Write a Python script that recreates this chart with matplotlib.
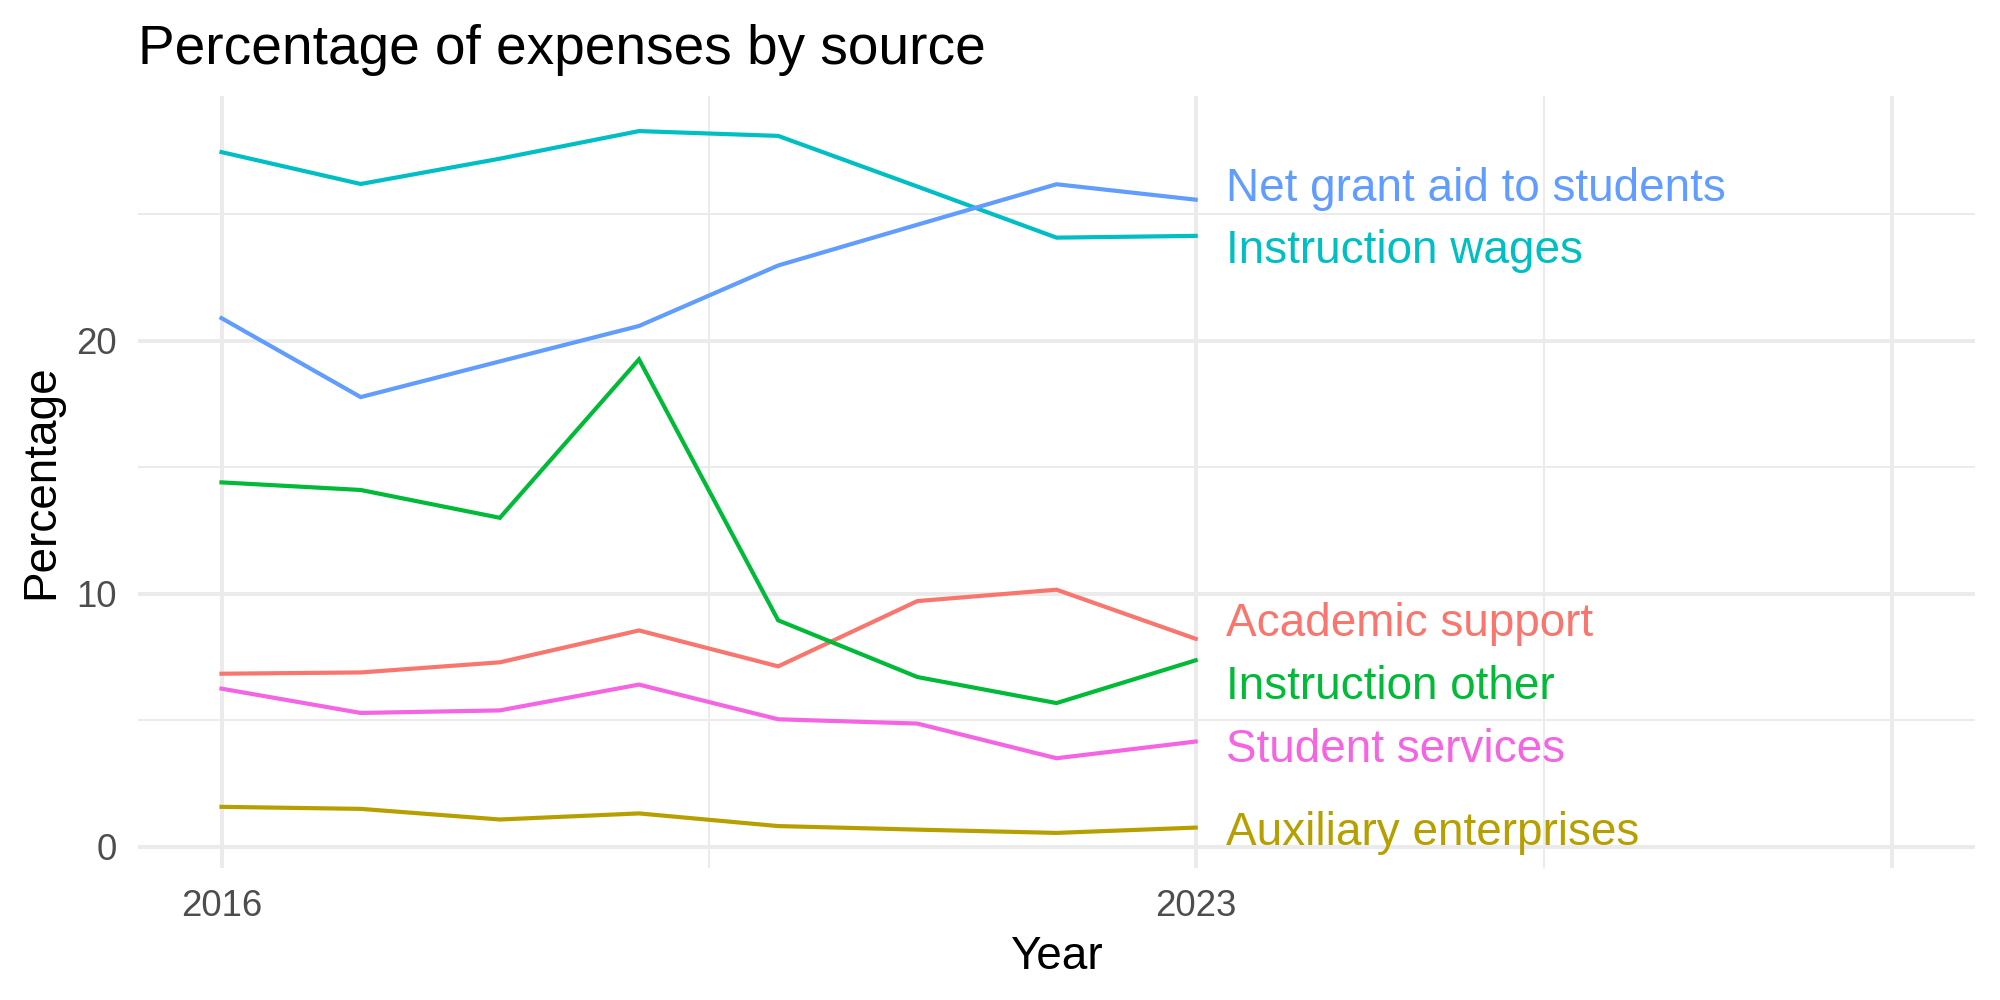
"""Percentage of expenses by source, ggplot-style line chart with end labels."""

import numpy as np
import matplotlib
matplotlib.use("Agg")
import matplotlib.pyplot as plt

plt.rcParams["font.family"] = ["Liberation Sans", "DejaVu Sans"]

years = [2016, 2017, 2018, 2019, 2020, 2021, 2022, 2023]

sources = [
    "Academic support",
    "Auxiliary enterprises",
    "Instruction other",
    "Instruction wages",
    "Net grant aid to students",
    "Student services",
]

academic_support = [6.84, 6.89, 7.29, 8.55, 7.13, 9.71, 10.16, 8.22]
auxiliary_enterprises = [1.58, 1.50, 1.08, 1.32, 0.82, 0.68, 0.55, 0.76]
instruction_other = [14.4, 14.1, 13.0, 19.26, 8.95, 6.71, 5.68, 7.37]
instruction_wages = [27.45, 26.19, 27.19, 28.28, 28.09, 26.09, 24.07, 24.14]
net_grant_aid = [20.89, 17.77, 19.18, 20.58, 22.97, 24.58, 26.18, 25.57]
student_services = [6.25, 5.29, 5.39, 6.41, 5.04, 4.87, 3.50, 4.16]

series = [academic_support, auxiliary_enterprises, instruction_other,
          instruction_wages, net_grant_aid, student_services]

colors = ["#F8766D", "#B79F00", "#00BA38", "#00BFC4", "#619CFF", "#F564E3"]

# label baselines after repelling
label_y = [8.34, 0.09, 5.83, 23.05, 25.53, 3.35]
label_x = 2023.22

x_major = [2016, 2023, 2028]
x_labels = ["2016", "2023", ""]
x_minor = [2019.5, 2025.5]
y_major = [0, 10, 20]
y_minor = [5, 15, 25]


def main() -> None:
    fig = plt.figure(figsize=(10, 5), dpi=200)
    ax = fig.add_axes([0.069, 0.132, 0.9185, 0.772])

    for vals, col in zip(series, colors):
        ax.plot(years, vals, color=col, lw=1.5, solid_joinstyle="miter", zorder=3)

    for name, ly, col in zip(sources, label_y, colors):
        ax.text(label_x, ly, name, color=col, fontsize=16.5, ha="left",
                va="baseline", zorder=4)

    all_vals = np.concatenate(series)
    lo, hi = all_vals.min(), all_vals.max()
    pad = 0.05 * (hi - lo)
    ax.set_ylim(lo - pad, hi + pad)
    ax.set_xlim(2016 - 0.6, 2028 + 0.6)

    ax.set_xticks(x_major)
    ax.set_xticklabels(x_labels)
    ax.set_xticks(x_minor, minor=True)
    ax.set_yticks(y_major)
    ax.set_yticks(y_minor, minor=True)

    ax.grid(True, which="major", color="#EBEBEB", lw=1.42, zorder=0)
    ax.grid(True, which="minor", color="#EBEBEB", lw=0.71, zorder=0)
    ax.set_axisbelow(True)
    for s in ax.spines.values():
        s.set_visible(False)
    ax.tick_params(which="both", length=0)
    ax.tick_params(axis="x", pad=7.5, labelsize=13.2, labelcolor="#4D4D4D")
    ax.tick_params(axis="y", pad=7.7, labelsize=13.2, labelcolor="#4D4D4D")

    fig.text(0.069, 0.936, "Percentage of expenses by source", fontsize=19.8,
             ha="left", va="baseline")
    fig.text(0.528, 0.031, "Year", fontsize=16.5, ha="center", va="baseline")
    fig.text(0.0207, 0.518, "Percentage", fontsize=16.5, ha="center",
             va="center", rotation=90)

    fig.savefig("out.png", dpi=200, facecolor="white")


if __name__ == "__main__":
    main()
